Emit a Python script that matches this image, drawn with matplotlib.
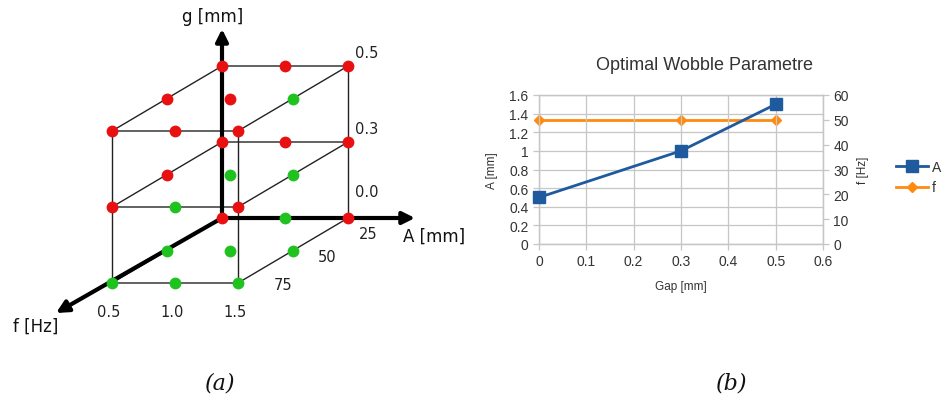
import matplotlib
matplotlib.use("Agg")
import matplotlib.pyplot as plt
import numpy as np

# ---------------- data ----------------
# (a) parameter cube: horizontal, depth, vertical levels
horiz_labels = ["0.5", "1.0", "1.5"]
depth_labels = ["25", "50", "75"]
vert_labels = ["0.0", "0.3", "0.5"]
# outcome per grid point: status[k][d][i]  (k = vertical level, d = depth 0=back, i = horizontal)
# 1 = success (green), 0 = failure (red)
status = [
    # k = 0 (bottom)
    [[0, 1, 0],   # back
     [1, 1, 1],   # middle
     [1, 1, 1]],  # front
    # k = 1
    [[0, 0, 0],
     [0, 1, 1],
     [0, 1, 0]],
    # k = 2 (top)
    [[0, 0, 0],
     [0, 0, 1],
     [0, 0, 0]],
]

# (b) Optimal wobble parameters
gap_mm = [0.0, 0.3, 0.5]
amp_mm = [0.5, 1.0, 1.5]
freq_hz = [50, 50, 50]

# ---------------- figure ----------------
W, H = 944, 406
fig = plt.figure(figsize=(W / 100, H / 100), dpi=100)
bg = fig.add_axes([0, 0, 1, 1])
bg.set_xlim(0, W)
bg.set_ylim(H, 0)
bg.axis("off")

RED = "#e81010"
GREEN = "#1fc21f"

origin = np.array([222.0, 219.0])
ex = np.array([63.0, 0.0])
ez = np.array([0.0, -76.0])
ed = np.array([-55.0, 32.5])


def P(i, k, d):
    return origin + i * ex + k * ez + d * ed


# thin cube lines
for k in range(3):
    ring = [P(0, k, 0), P(2, k, 0), P(2, k, 2), P(0, k, 2), P(0, k, 0)]
    xs = [p[0] for p in ring]
    ys = [p[1] for p in ring]
    bg.plot(xs, ys, color="#222222", lw=1.0, zorder=1)
for (i, d) in [(0, 0), (2, 0), (2, 2), (0, 2)]:
    a, b = P(i, 0, d), P(i, 2, d)
    bg.plot([a[0], b[0]], [a[1], b[1]], color="#222222", lw=1.0, zorder=1)

# thick axes with arrows
arrow_kw = dict(arrowstyle="-|>", lw=3, color="black", mutation_scale=18,
                shrinkA=0, shrinkB=0)
o = P(0, 0, 0)
bg.annotate("", xy=(222, 30), xytext=o, arrowprops=arrow_kw, zorder=2)
bg.annotate("", xy=(415, 219), xytext=o, arrowprops=arrow_kw, zorder=2)
bg.annotate("", xy=(56, 314), xytext=o, arrowprops=arrow_kw, zorder=2)

# points
for k in range(3):
    for d in range(3):
        for i in range(3):
            p = P(i, k, d)
            c = GREEN if status[k][d][i] else RED
            bg.plot(p[0], p[1], "o", color=c, ms=8.5, mec="none", zorder=3)

lab_fs = 10.5
for i, t in enumerate(horiz_labels):
    p = P(i, 0, 2)
    bg.text(p[0] - 3, p[1] + 29, t, ha="center", va="center", fontsize=lab_fs,
            family="DejaVu Sans", color="#222222")
depth_pos = [(368, 235), (327, 258), (283, 286)]
for (x, y), t in zip(depth_pos, depth_labels):
    bg.text(x, y, t, ha="center", va="center", fontsize=lab_fs, color="#222222")
vert_pos = [(367, 193), (367, 130), (367, 53)]
for (x, y), t in zip(vert_pos, vert_labels):
    bg.text(x, y, t, ha="center", va="center", fontsize=lab_fs, color="#222222")

bg.text(213, 17, "g [mm]", ha="center", va="center", fontsize=12, color="#111111")
bg.text(434, 237, "A [mm]", ha="center", va="center", fontsize=12, color="#111111")
bg.text(36, 327, "f [Hz]", ha="center", va="center", fontsize=12, color="#111111")

# captions
bg.text(220, 384, "(a)", ha="center", va="center", fontsize=16, style="italic",
        family="DejaVu Serif", color="#111111")
bg.text(732, 384, "(b)", ha="center", va="center", fontsize=16, style="italic",
        family="DejaVu Serif", color="#111111")

# ---------------- (b) chart ----------------
L, R, T, B = 539, 823, 96, 245
ax = fig.add_axes([L / W, 1 - B / H, (R - L) / W, (B - T) / H])
ax2 = ax.twinx()

BLUE = "#1f5a9e"
ORANGE = "#ff8a0e"
SANS = "Liberation Sans"
GRID = "#c6c6c6"
TXT = "#333333"

ax.set_xlim(0, 0.6)
ax.set_ylim(0, 1.6)
ax2.set_ylim(0, 60)
ax.set_xticks(np.arange(0, 0.61, 0.1))
ax.set_yticks(np.arange(0, 1.61, 0.2))
ax2.set_yticks(np.arange(0, 61, 10))
ax.set_xticklabels(["%g" % round(v, 1) for v in np.arange(0, 0.61, 0.1)])
ax.set_yticklabels(["%g" % round(v, 1) for v in np.arange(0, 1.61, 0.2)])
ax.grid(True, color=GRID, lw=0.9)
ax.set_axisbelow(True)
for a in (ax, ax2):
    for s in a.spines.values():
        s.set_color(GRID)
        s.set_linewidth(0.9)
    a.tick_params(colors=GRID, labelcolor=TXT, length=4, width=0.9, labelsize=10)
    for lbl in a.get_xticklabels() + a.get_yticklabels():
        lbl.set_family(SANS)

l1, = ax.plot(gap_mm, amp_mm, color=BLUE, lw=2, marker="s", ms=8, zorder=3,
              clip_on=False)
l2, = ax2.plot(gap_mm, freq_hz, color=ORANGE, lw=2, marker="D", ms=5.5, zorder=3,
               clip_on=False)
ax.set_zorder(ax2.get_zorder() + 1)
ax.patch.set_visible(False)

ax.set_xlabel("Gap [mm]", fontsize=8.5, family=SANS, color=TXT, labelpad=8)
ax.set_ylabel("A [mm]", fontsize=8.5, family=SANS, color=TXT, labelpad=8)
ax2.set_ylabel("f [Hz]", fontsize=8.5, family=SANS, color=TXT, labelpad=6)

fig.text(704 / W, 1 - 65 / H, "Optimal Wobble Parametre", ha="center", va="center",
         fontsize=13, family=SANS, color=TXT)

fig.legend([l1, l2], ["A", "f"], loc="center left",
           bbox_to_anchor=(896 / W, 1 - 178 / H), frameon=False,
           borderpad=0, borderaxespad=0,
           prop={"family": SANS, "size": 10}, handlelength=2.3, handletextpad=0.3,
           labelspacing=0.5, labelcolor=TXT)

fig.savefig("out.png", dpi=100)
